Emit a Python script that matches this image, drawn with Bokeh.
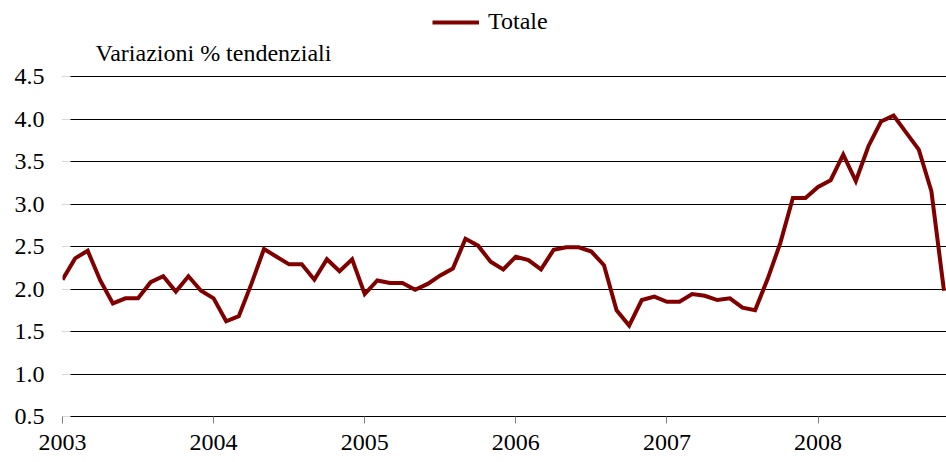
from bokeh.plotting import figure
from bokeh.models import Range1d, FixedTicker, Legend, LegendItem, Label, NumeralTickFormatter
from bokeh.embed import file_html
from bokeh.resources import INLINE

# ---- data (Jan 2003 - Nov 2008, monthly) ----
start_year = 2003
values = [2.11, 2.36, 2.45, 2.10, 1.83, 1.89, 1.89, 2.08, 2.15, 1.97, 2.15, 1.98,   # 2003
          1.89, 1.62, 1.68, 2.06, 2.47, 2.38, 2.29, 2.29, 2.11, 2.35, 2.21, 2.35,   # 2004
          1.94, 2.10, 2.07, 2.07, 1.99, 2.06, 2.16, 2.24, 2.59, 2.51, 2.32, 2.23,   # 2005
          2.38, 2.34, 2.23, 2.46, 2.49, 2.49, 2.44, 2.28, 1.75, 1.57, 1.87, 1.91,   # 2006
          1.85, 1.85, 1.94, 1.92, 1.87, 1.89, 1.78, 1.75, 2.12, 2.54, 3.07, 3.07,   # 2007
          3.20, 3.28, 3.58, 3.27, 3.68, 3.97, 4.04, 3.84, 3.64, 3.15, 1.98]         # 2008
x_ticks = [2003, 2004, 2005, 2006, 2007, 2008]
y_ticks = [0.5, 1.0, 1.5, 2.0, 2.5, 3.0, 3.5, 4.0, 4.5]
series_name = "Totale"
y_title = "Variazioni % tendenziali"

months = [start_year + i / 12.0 for i in range(len(values))]

FONT = "Liberation Serif"
FS = "24px"
RED = "#800000"

# frame spans the full height above the x axis; the top gridline (4.5) sits 76px below the top
H, BOTTOM = 462, 46
frame_h = H - BOTTOM
y_top = 0.5 + (4.5 - 0.5) * frame_h / (frame_h - 76)

p = figure(width=946, height=H, output_backend="svg", toolbar_location=None,
           x_range=Range1d(start_year, start_year + 70.2 / 12.0),
           y_range=Range1d(0.5, y_top),
           min_border_left=62, min_border_right=0, min_border_top=0, min_border_bottom=BOTTOM)
p.outline_line_color = None
p.background_fill_color = "white"
p.border_fill_color = "white"

p.xgrid.visible = False
p.ygrid.ticker = FixedTicker(ticks=y_ticks)
p.ygrid.grid_line_color = "black"
p.ygrid.grid_line_width = 1

# y axis
p.yaxis.ticker = FixedTicker(ticks=y_ticks)
p.yaxis.formatter = NumeralTickFormatter(format="0.0")
p.yaxis.axis_line_color = None
p.yaxis.major_tick_in = 8
p.yaxis.major_tick_out = 0
p.yaxis.major_tick_line_color = "#d9d9d9"
p.yaxis.minor_tick_line_color = None
p.yaxis.major_label_standoff = 18
p.yaxis.major_label_text_font = FONT
p.yaxis.major_label_text_font_size = FS
p.yaxis.major_label_text_color = "black"

# x axis
p.xaxis.ticker = FixedTicker(ticks=x_ticks)
p.xaxis.formatter = NumeralTickFormatter(format="0")
p.xaxis.axis_line_color = "black"
p.xaxis.major_tick_in = 0
p.xaxis.major_tick_out = 7
p.xaxis.major_tick_line_color = "#808080"
p.xaxis.minor_tick_line_color = None
p.xaxis.major_label_standoff = 11
p.xaxis.major_label_text_font = FONT
p.xaxis.major_label_text_font_size = FS
p.xaxis.major_label_text_color = "black"

r = p.line(months, values, line_color=RED, line_width=4, line_join="miter")

legend = Legend(items=[LegendItem(label=series_name, renderers=[r])],
                location=(370, frame_h - 35), orientation="horizontal",
                padding=0, margin=0, glyph_width=47, glyph_height=20, label_standoff=9,
                border_line_color=None, background_fill_alpha=0,
                label_text_font=FONT, label_text_font_size=FS, label_text_color="black")
p.add_layout(legend)

title = Label(x=33, y=frame_h - 52, x_units="screen", y_units="screen", text=y_title,
              text_font=FONT, text_font_size=FS, text_color="black", text_baseline="middle")
p.add_layout(title)

open("out.html", "w").write(file_html(p, INLINE))
